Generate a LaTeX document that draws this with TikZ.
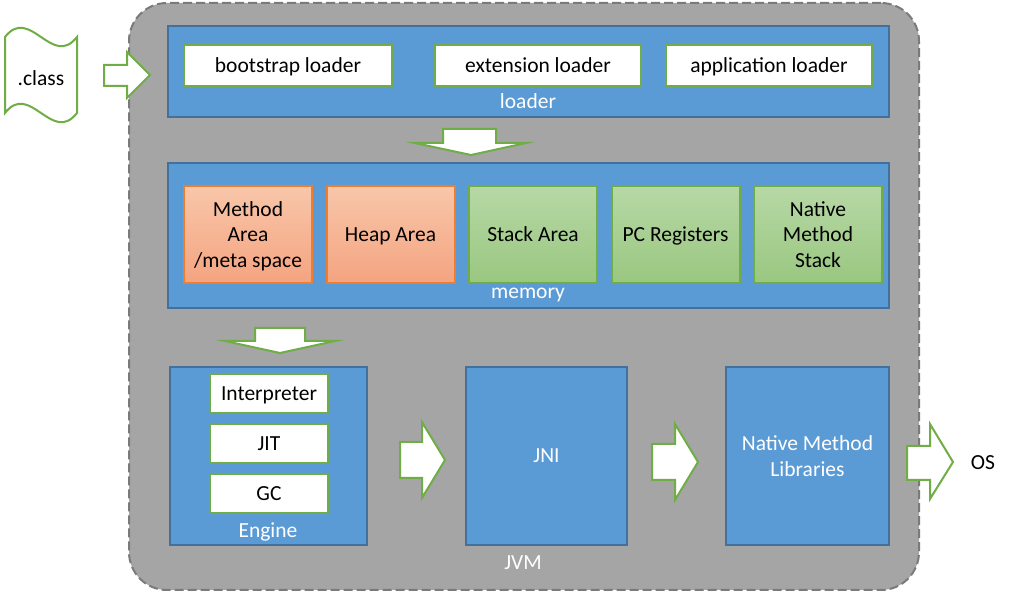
\documentclass[tikz,border=0pt]{standalone}
\usepackage{fontspec}
\setmainfont{Carlito}
\definecolor{bfill}{HTML}{5B9BD5}
\definecolor{bdraw}{HTML}{41719C}
\definecolor{grn}{HTML}{70AD47}
\definecolor{gfill}{HTML}{A5A5A5}
\definecolor{gdash}{HTML}{7A7A7A}
\definecolor{odraw}{HTML}{ED7D31}
\definecolor{otop}{HTML}{F8C6AA}
\definecolor{obot}{HTML}{F4A480}
\definecolor{gtop}{HTML}{B7D8A6}
\definecolor{gbot}{HTML}{99C780}
\begin{document}
\begin{tikzpicture}[x=1pt,y=-1pt,
  every node/.style={font=\fontsize{21.5}{25.5}\selectfont, inner sep=0pt, align=center, text depth=0pt},
  jvmbox/.style={draw=gdash, fill=gfill, line width=2pt, dash pattern=on 9pt off 4pt, rounded corners=38pt},
  bluebox/.style={draw=bdraw, fill=bfill, line width=2pt},
  whitebox/.style={draw=grn, fill=white, line width=2pt},
  orangebox/.style={draw=odraw, top color=otop, bottom color=obot, line width=2pt, minimum width=128pt, minimum height=97pt},
  greenbox/.style={draw=grn, top color=gtop, bottom color=gbot, line width=2pt, minimum width=128pt, minimum height=97pt},
  blockarrow/.style={draw=grn, fill=white, line width=2pt, line join=miter},
  lbl/.style={text=white}
]
\useasboundingbox (0,0) rectangle (1013,601);

% JVM container
\node[jvmbox, minimum width=790pt, minimum height=587pt] (jvm) at (524,296.5) {};
\node[lbl] (jvmlabel) at (523,563) {JVM};

% .class document shape
\draw[draw=grn, fill=white, line width=2pt]
  (5,37) .. controls (30,5) and (52,69) .. (77,37)
  -- (77,113) .. controls (52,145) and (30,81) .. (5,113) -- cycle;
\node (class) at (41,78) {.class};

% arrow class -> JVM
\draw[blockarrow] (104,65) -- (127,65) -- (127,52) -- (150,75) -- (127,98) -- (127,86) -- (104,86) -- cycle;

% loader
\node[bluebox, minimum width=721pt, minimum height=91pt] (loader) at (528.5,71.5) {};
\node[whitebox, minimum width=208pt, minimum height=41pt] (boot) at (288,65.5) {bootstrap loader};
\node[whitebox, minimum width=206pt, minimum height=41pt] (ext) at (538,65.5) {extension loader};
\node[whitebox, minimum width=206pt, minimum height=41pt] (app) at (769,65.5) {application loader};
\node[lbl] (loaderlabel) at (528,101) {loader};

% down arrow 1
\draw[blockarrow] (443,129) -- (496,129) -- (496,143) -- (526,143) -- (471,155) -- (415,143) -- (443,143) -- cycle;

% memory
\node[bluebox, minimum width=721pt, minimum height=145pt] (memory) at (528.5,235.5) {};
\node[orangebox] (method) at (248,234.5) {Method\\Area\\/meta space};
\node[orangebox] (heap) at (390.5,234.5) {Heap Area};
\node[greenbox] (stack) at (533,234.5) {Stack Area};
\node[greenbox] (pc) at (675.5,234.5) {PC Registers};
\node[greenbox] (nms) at (818,234.5) {Native\\Method\\Stack};
\node[lbl] (memlabel) at (528,293) {memory};

% down arrow 2
\draw[blockarrow] (255,328) -- (305,328) -- (305,341) -- (335,341) -- (280,353) -- (225,341) -- (255,341) -- cycle;

% engine
\node[bluebox, minimum width=197pt, minimum height=178pt] (engine) at (268.5,456) {};
\node[whitebox, minimum width=118pt, minimum height=39pt] (interp) at (269,393.5) {Interpreter};
\node[whitebox, minimum width=118pt, minimum height=39pt] (jit) at (269,443.5) {JIT};
\node[whitebox, minimum width=118pt, minimum height=39pt] (gc) at (269,493.5) {GC};
\node[lbl] (englabel) at (268,530) {Engine};

% JNI
\node[bluebox, lbl, minimum width=161pt, minimum height=178pt] (jni) at (546.5,456) {JNI};

% Native Method Libraries
\node[bluebox, lbl, minimum width=163pt, minimum height=178pt] (nml) at (807.5,456) {Native Method\\Libraries};

% horizontal arrows
\draw[blockarrow] (400,442) -- (422,442) -- (422,422) -- (445,460) -- (422,498) -- (422,478) -- (400,478) -- cycle;
\draw[blockarrow] (652,444) -- (675,444) -- (675,424) -- (698,462) -- (675,500) -- (675,480) -- (652,480) -- cycle;
\draw[blockarrow] (907,446) -- (930,446) -- (930,424) -- (953,462) -- (930,499) -- (930,480) -- (907,480) -- cycle;

\node (os) at (983,463) {OS};
\end{tikzpicture}
\end{document}
